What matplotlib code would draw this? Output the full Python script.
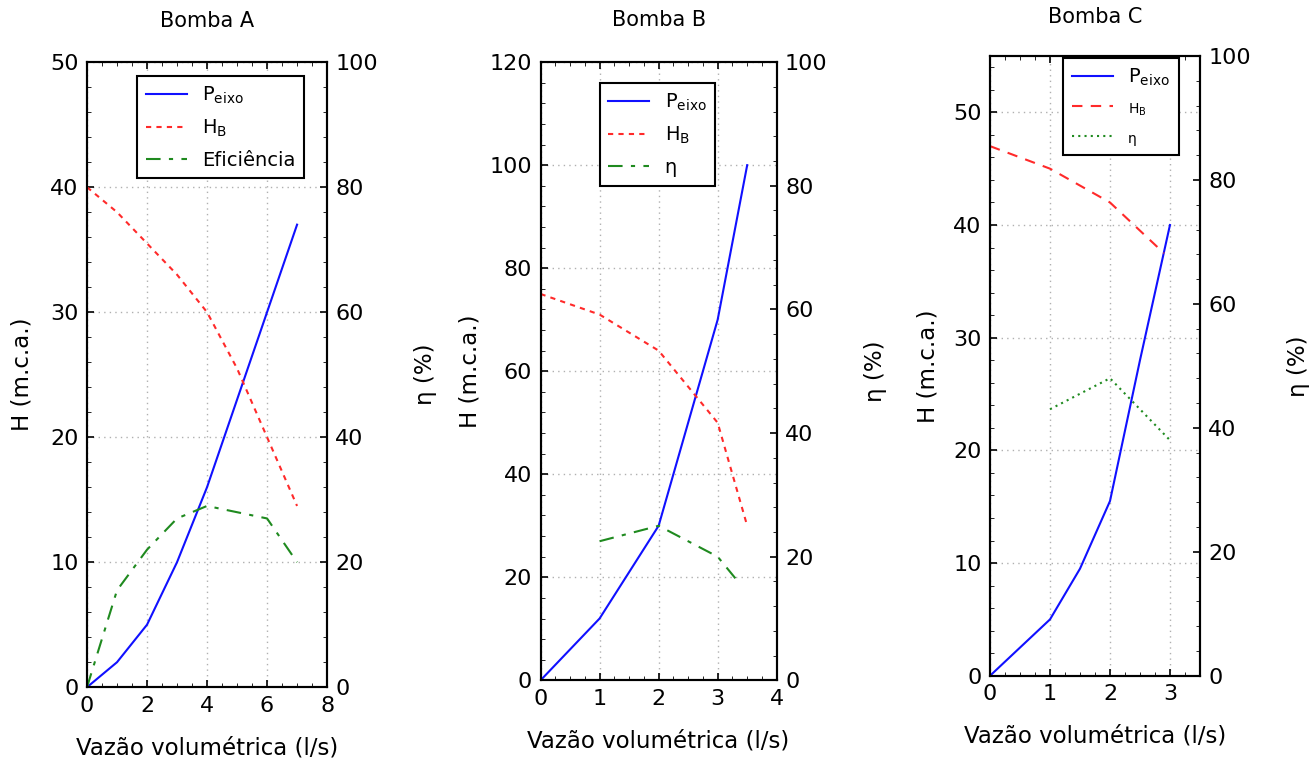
"""
Curvas características das bombas A, B e C (P_eixo, H_B e eficiência).
"""
import matplotlib
matplotlib.use("Agg")
import matplotlib.pyplot as plt
from matplotlib.ticker import AutoMinorLocator, MultipleLocator

plt.rcParams["font.family"] = ["DejaVu Sans"]
plt.rcParams["mathtext.default"] = "regular"

# ---------------------------------------------------------------------------
# Data
# ---------------------------------------------------------------------------
# Bomba A
qA_p = [0, 1, 2, 3, 4, 5, 6, 7]
pA = [0, 2, 5, 10, 16, 23, 30, 37]
qA_h = [0, 1, 2, 3, 4, 5, 6, 7]
hA = [40, 38, 35.5, 33, 30, 25.5, 20, 14.5]
qA_e = [0, 1, 2, 3, 4, 5, 6, 7]
effA = [0, 15.5, 22, 27, 29, 28, 27, 20]

# Bomba B
qB_p = [0, 1, 2, 3, 3.5]
pB = [0, 12, 30, 70, 100]
qB_h = [0, 1, 2, 3, 3.5]
hB = [75, 71, 64, 50, 30]
qB_e = [1, 2, 3, 3.3]
effB = [22.5, 25, 20, 16.5]

# Bomba C
qC_p = [0, 1, 1.5, 2, 2.5, 3]
pC = [0, 5, 9.5, 15.5, 28, 40]
qC_h = [0, 1, 2, 2.9]
hC = [47, 45, 42, 37.5]
qC_e = [1, 2, 3]
effC = [43, 48, 38]

BLUE = "#1010ff"
RED = "#ff2a2a"
GREEN = "#1f8a1f"
GRID = "#b0b0b0"
TICK_FS = 16
LABEL_FS = 16.5
TITLE_FS = 15
LEG_FS = 14


def setup_axes(ax, ax2, xlim, xstep, ylim, ystep, title, title_pad, ylab_pad):
    ax.set_xlim(*xlim)
    ax.set_ylim(*ylim)
    ax2.set_ylim(0, 100)
    ax.xaxis.set_major_locator(MultipleLocator(xstep))
    ax.yaxis.set_major_locator(MultipleLocator(ystep))
    ax2.yaxis.set_major_locator(MultipleLocator(20))
    ax.xaxis.set_minor_locator(AutoMinorLocator(4))
    ax.yaxis.set_minor_locator(AutoMinorLocator(5))
    ax2.yaxis.set_minor_locator(AutoMinorLocator(5))
    ax.tick_params(which="both", direction="in", top=True, labelsize=TICK_FS)
    ax.tick_params(which="major", length=5, width=1.2, pad=6)
    ax.tick_params(which="minor", length=3)
    ax2.tick_params(which="both", direction="in", labelsize=TICK_FS)
    ax2.tick_params(which="major", length=5, width=1.2, pad=6)
    ax2.tick_params(which="minor", length=3)
    ax.grid(True, which="major", color=GRID, linestyle=(0, (1, 3)), linewidth=1.0)
    for sp in ax.spines.values():
        sp.set_linewidth(1.5)
    for sp in ax2.spines.values():
        sp.set_linewidth(1.5)
    ax.set_title(title, fontsize=TITLE_FS, pad=title_pad)
    ax.set_xlabel("Vazão volumétrica (l/s)", fontsize=LABEL_FS, labelpad=15)
    ax.set_ylabel("H (m.c.a.)", fontsize=LABEL_FS, labelpad=ylab_pad)
    ax2.set_ylabel("η (%)", fontsize=LABEL_FS, labelpad=26)


def add_legend(ax, handles, labels, anchor, sizes=None):
    leg = ax.legend(handles, labels, loc="upper left", bbox_to_anchor=anchor,
                    fontsize=LEG_FS, fancybox=False, framealpha=1, edgecolor="black",
                    handlelength=2.1, handletextpad=0.8, borderpad=0.45,
                    labelspacing=0.6, borderaxespad=0)
    leg.get_frame().set_linewidth(1.5)
    if sizes:
        for t, s in zip(leg.get_texts(), sizes):
            t.set_fontsize(s)
    return leg


fig = plt.figure(figsize=(13.12, 7.67), dpi=100, facecolor="white")

# ------------------------------------------------------------------ #
# Bomba A
# ------------------------------------------------------------------ #
axA = fig.add_axes([0.0663, 0.104, 0.183, 0.815])
axA2 = axA.twinx()
lpA, = axA.plot(qA_p, pA, color=BLUE, linewidth=1.5)
lhA, = axA.plot(qA_h, hA, color=RED, linewidth=1.5, linestyle=(0, (2.5, 2.5)))
leA, = axA2.plot(qA_e, effA, color=GREEN, linewidth=1.5, linestyle=(0, (7, 4, 2, 4)))
setup_axes(axA, axA2, (0, 8), 2, (0, 50), 10, "Bomba A", 25, 12)
add_legend(axA2, [lpA, lhA, leA], ["P$_{eixo}$", "H$_B$", "Eficiência"], (0.208, 0.978))

# ------------------------------------------------------------------ #
# Bomba B
# ------------------------------------------------------------------ #
axB = fig.add_axes([0.412, 0.113, 0.180, 0.806])
axB2 = axB.twinx()
lpB, = axB.plot(qB_p, pB, color=BLUE, linewidth=1.5)
lhB, = axB.plot(qB_h, hB, color=RED, linewidth=1.5, linestyle=(0, (2.5, 2.5)))
leB, = axB2.plot(qB_e, effB, color=GREEN, linewidth=1.5, linestyle=(0, (7, 4, 2, 4)))
setup_axes(axB, axB2, (0, 4), 1, (0, 120), 20, "Bomba B", 26, 6)
add_legend(axB2, [lpB, lhB, leB], ["P$_{eixo}$", "H$_B$", "η"], (0.25, 0.966))

# ------------------------------------------------------------------ #
# Bomba C
# ------------------------------------------------------------------ #
axC = fig.add_axes([0.7546, 0.119, 0.160, 0.808])
axC2 = axC.twinx()
lpC, = axC.plot(qC_p, pC, color=BLUE, linewidth=1.5)
lhC, = axC.plot(qC_h, hC, color=RED, linewidth=1.5, linestyle=(0, (5, 4)))
leC, = axC2.plot(qC_e, effC, color=GREEN, linewidth=1.5, linestyle=(0, (1, 2)))
setup_axes(axC, axC2, (0, 3.5), 1, (0, 55), 10, "Bomba C", 24, 10)
add_legend(axC2, [lpC, lhC, leC], ["P$_{eixo}$", "H$_B$", "η"], (0.348, 0.997),
           sizes=[LEG_FS, 10, 10])

fig.savefig("out.png", dpi=100, facecolor="white")
